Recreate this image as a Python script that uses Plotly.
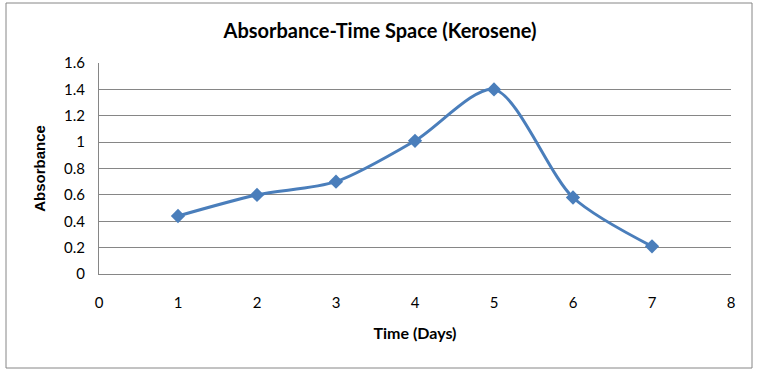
import plotly.graph_objects as go

days = [1, 2, 3, 4, 5, 6, 7]
absorbance = [0.44, 0.60, 0.70, 1.01, 1.40, 0.58, 0.21]
x_ticks = [0, 1, 2, 3, 4, 5, 6, 7, 8]
y_ticks = [0, 0.2, 0.4, 0.6, 0.8, 1, 1.2, 1.4, 1.6]
y_tick_text = ["0", "0.2", "0.4", "0.6", "0.8", "1", "1.2", "1.4", "1.6"]

font_family = "Lato, Carlito, 'Liberation Sans', Arial, sans-serif"
ytitle_family = "'Liberation Sans', Arial, sans-serif"

fig = go.Figure()
fig.add_trace(go.Scatter(
    x=days, y=absorbance, mode="lines+markers",
    line=dict(color="#4A7EBB", width=3, shape="spline", smoothing=0.8),
    marker=dict(symbol="diamond", size=11, color="#4A7EBB"),
    showlegend=False,
))

fig.update_layout(
    width=759, height=372,
    margin=dict(l=99, r=28, t=63, b=98),
    paper_bgcolor="white", plot_bgcolor="white",
    font=dict(family=font_family, size=15, color="black"),
    title=dict(text="<b>Absorbance-Time Space (Kerosene)</b>", x=380 / 759, xanchor="center",
               y=1 - 31 / 372, yanchor="middle", font=dict(size=20, family=font_family)),
    xaxis=dict(range=[0, 8], tickvals=x_ticks, showgrid=False, zeroline=False,
               showline=True, linecolor="#868686", linewidth=1, ticks="", ticklen=0,
               tickfont=dict(size=15), ticklabelstandoff=15,
               title=dict(text="<b>Time (Days)</b>", font=dict(size=16), standoff=17)),
    yaxis=dict(range=[0, 1.6], tickvals=y_ticks, ticktext=y_tick_text, showgrid=True,
               gridcolor="#868686", gridwidth=1, zeroline=False, showline=True,
               linecolor="#868686", linewidth=1, ticks="", tickfont=dict(size=15),
               ticklabelstandoff=10,
               title=dict(text="<b>Absorbance</b>", font=dict(size=15, family=ytitle_family),
                          standoff=14)),
    shapes=[dict(type="rect", xref="paper", yref="paper", x0=-93 / 632, x1=1 + 21 / 632,
                 y0=-94 / 211, y1=1 + 60 / 211, line=dict(color="#868686", width=1))],
)

fig.write_html("out.html", config={"displayModeBar": False},
               post_script="document.body.style.margin='0';")
